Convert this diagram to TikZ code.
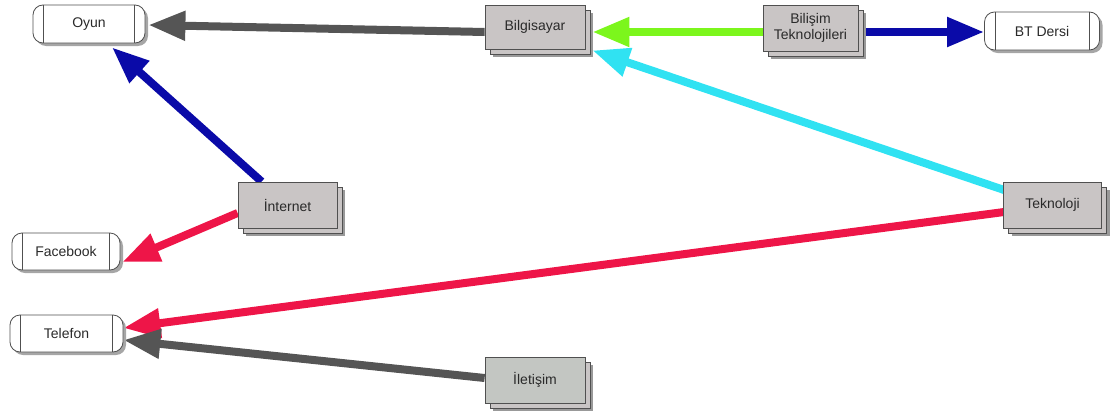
\documentclass[tikz,border=0pt]{standalone}
\usepackage{fontspec}
\setmainfont{Liberation Sans}
\usetikzlibrary{arrows.meta,shadows,backgrounds}
\definecolor{boxfill}{HTML}{C9C5C5}
\definecolor{boxfillg}{HTML}{C3C6C2}
\definecolor{edgegray}{HTML}{505050}
\definecolor{arrgray}{HTML}{555555}
\definecolor{arrgreen}{HTML}{7CF61C}
\definecolor{arrblue}{HTML}{0A0AA8}
\definecolor{arrcyan}{HTML}{30E2F2}
\definecolor{arrred}{HTML}{EE1548}
\definecolor{txt}{HTML}{2A2A2A}
\tikzset{
  term/.style={draw=edgegray, line width=0.8pt, fill=white, rounded corners=10pt,
    drop shadow={shadow xshift=3pt, shadow yshift=-3pt, fill=black!35, opacity=1},
    text=txt, font=\fontsize{14}{16}\selectfont, align=center, inner sep=0pt},
  stack/.style={draw=edgegray, line width=0.8pt, fill=boxfill,
    drop shadow={shadow xshift=8pt, shadow yshift=-8pt, fill=black!40, opacity=1},
    copy shadow={shadow xshift=5pt, shadow yshift=-5pt, draw=edgegray, line width=0.8pt, fill=boxfill},
    text=txt, font=\fontsize{14}{16}\selectfont, align=center, inner sep=0pt},
  conn/.style={line width=8pt, -{Triangle[length=37pt,width=28pt]}},
}
\begin{document}
\begin{tikzpicture}[x=1pt,y=-1pt]
\useasboundingbox (0,0) rectangle (1114,415);
% terminators
\node[term, minimum width=112pt, minimum height=38pt] (oyun) at (89,24) {Oyun};
\node[term, minimum width=115pt, minimum height=38pt] (bt) at (1042,31) {BT Dersi};
\node[term, minimum width=108pt, minimum height=37pt] (fb) at (66,251.5) {Facebook};
\node[term, minimum width=113pt, minimum height=37pt] (tel) at (66.5,333.5) {Telefon};
\foreach \n in {oyun,bt,fb,tel}{
  \draw[edgegray, line width=0.8pt] ([xshift=11pt]\n.north west) -- ([xshift=11pt]\n.south west);
  \draw[edgegray, line width=0.8pt] ([xshift=-11pt]\n.north east) -- ([xshift=-11pt]\n.south east);
}
% stacked boxes
\node[stack, minimum width=100pt, minimum height=44pt] (bilg) at (535,27) {Bilgisayar};
\node[stack, minimum width=95pt, minimum height=46pt] (bil) at (810.5,28) {Bilişim\\Teknolojileri};
\node[stack, minimum width=99pt, minimum height=46pt] (inet) at (287.5,205) {İnternet};
\node[stack, minimum width=98pt, minimum height=46pt] (tek) at (1052.5,205) {Teknoloji};
\node[stack, fill=boxfillg, minimum width=100pt, minimum height=46pt] (ilet) at (535,380) {İletişim};
% connectors
\begin{scope}[on background layer]
\draw[conn, arrgray] ([shift={(0,5)}]bilg.west) -- ([shift={(3,1)}]oyun.east);
\draw[conn, arrgreen] ([shift={(0,4)}]bil.west) -- ([shift={(7,5)}]bilg.east);
\draw[conn, arrblue] ([shift={(5,4)}]bil.east) -- ([shift={(0,1)}]bt.west);
\draw[conn, arrcyan] ([shift={(1,-15)}]tek.west) -- ([shift={(7,1)}]bilg.south east);
\draw[conn, arrred] ([shift={(1,7)}]tek.west) -- ([shift={(0,-5.5)}]tel.east);
\draw[conn, arrblue] ([shift={(24,0)}]inet.north west) -- ([shift={(23,4)}]oyun.south);
\draw[conn, arrred] ([shift={(0,8)}]inet.west) -- ([shift={(2,10.5)}]fb.east);
\draw[conn, arrgray] ([shift={(0,-2)}]ilet.west) -- ([shift={(0,6.5)}]tel.east);
\end{scope}
\end{tikzpicture}
\end{document}
